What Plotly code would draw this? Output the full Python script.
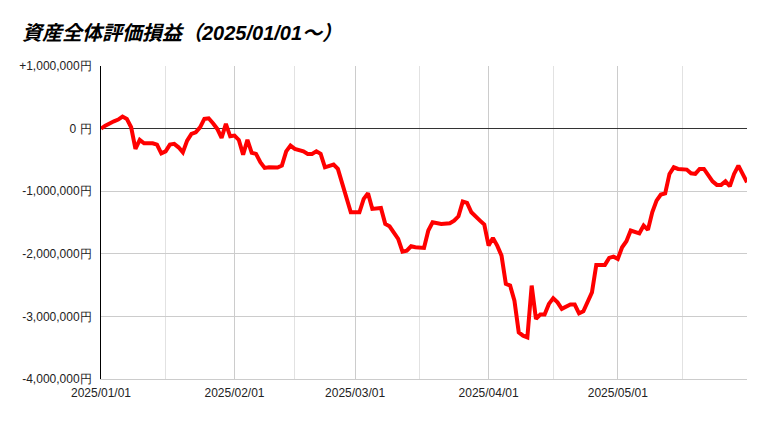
import plotly.graph_objects as go

dates = [
    "2025-01-01", "2025-01-02", "2025-01-04", "2025-01-05", "2025-01-06", "2025-01-07", "2025-01-08",
    "2025-01-09", "2025-01-10", "2025-01-11", "2025-01-13", "2025-01-14", "2025-01-15", "2025-01-16",
    "2025-01-17", "2025-01-18", "2025-01-19", "2025-01-20", "2025-01-21", "2025-01-22", "2025-01-23",
    "2025-01-24", "2025-01-25", "2025-01-26", "2025-01-27", "2025-01-28", "2025-01-29", "2025-01-30",
    "2025-01-31", "2025-02-01", "2025-02-02", "2025-02-03", "2025-02-04", "2025-02-05", "2025-02-06",
    "2025-02-07", "2025-02-08", "2025-02-09", "2025-02-11", "2025-02-12", "2025-02-13", "2025-02-14",
    "2025-02-15", "2025-02-16", "2025-02-17", "2025-02-18", "2025-02-19", "2025-02-20", "2025-02-21",
    "2025-02-22", "2025-02-24", "2025-02-25", "2025-02-26", "2025-02-27", "2025-02-28", "2025-03-02",
    "2025-03-03", "2025-03-04", "2025-03-05", "2025-03-07", "2025-03-08", "2025-03-09", "2025-03-10",
    "2025-03-11", "2025-03-12", "2025-03-13", "2025-03-14", "2025-03-15", "2025-03-17", "2025-03-18",
    "2025-03-19", "2025-03-21", "2025-03-23", "2025-03-24", "2025-03-25", "2025-03-26", "2025-03-27",
    "2025-03-28", "2025-03-30", "2025-03-31", "2025-04-01", "2025-04-02", "2025-04-03", "2025-04-04",
    "2025-04-05", "2025-04-06", "2025-04-07", "2025-04-08", "2025-04-09", "2025-04-10", "2025-04-11",
    "2025-04-12", "2025-04-13", "2025-04-14", "2025-04-15", "2025-04-16", "2025-04-17", "2025-04-18",
    "2025-04-20", "2025-04-21", "2025-04-22", "2025-04-23", "2025-04-25", "2025-04-26", "2025-04-28",
    "2025-04-29", "2025-04-30", "2025-05-01", "2025-05-02", "2025-05-03", "2025-05-04", "2025-05-06",
    "2025-05-07", "2025-05-08", "2025-05-09", "2025-05-10", "2025-05-11", "2025-05-12", "2025-05-13",
    "2025-05-14", "2025-05-15", "2025-05-17", "2025-05-18", "2025-05-19", "2025-05-20", "2025-05-21",
    "2025-05-23", "2025-05-24", "2025-05-25", "2025-05-26", "2025-05-27", "2025-05-28", "2025-05-29",
    "2025-05-30", "2025-05-31",
]

profit = [
    0, 48000, 117000, 144000, 192000, 155000, 21000,
    -324000, -181000, -235000, -235000, -256000, -395000, -363000,
    -256000, -244000, -299000, -379000, -192000, -85000, -59000,
    21000, 155000, 165000, 85000, -5000, -149000, 75000,
    -123000, -112000, -181000, -415000, -181000, -388000, -404000,
    -538000, -628000, -618000, -623000, -591000, -363000, -272000,
    -324000, -336000, -363000, -404000, -404000, -363000, -404000,
    -618000, -575000, -644000, -883000, -1097000, -1337000, -1337000,
    -1123000, -1034000, -1283000, -1267000, -1522000, -1561000, -1657000,
    -1762000, -1965000, -1949000, -1880000, -1896000, -1906000, -1629000,
    -1497000, -1522000, -1513000, -1470000, -1401000, -1166000, -1187000,
    -1337000, -1470000, -1534000, -1869000, -1746000, -1869000, -2029000,
    -2481000, -2508000, -2748000, -3254000, -3307000, -3334000, -2508000,
    -3040000, -2971000, -2971000, -2800000, -2711000, -2775000, -2880000,
    -2811000, -2811000, -2950000, -2919000, -2615000, -2177000, -2177000,
    -2065000, -2045000, -2081000, -1896000, -1800000, -1629000, -1673000,
    -1550000, -1618000, -1337000, -1150000, -1054000, -1034000, -724000,
    -618000, -644000, -655000, -714000, -724000, -644000, -644000,
    -842000, -899000, -899000, -842000, -922000, -724000, -591000,
    -714000, -858000,
]

y_tick_vals = [1000000, 0, -1000000, -2000000, -3000000, -4000000]
y_tick_text = ["+1,000,000円", "0 円", "-1,000,000円", "-2,000,000円", "-3,000,000円", "-4,000,000円"]
x_tick_vals = ["2025-01-01", "2025-02-01", "2025-03-01", "2025-04-01", "2025-05-01"]
x_tick_text = ["2025/01/01", "2025/02/01", "2025/03/01", "2025/04/01", "2025/05/01"]
x_minor_vals = ["2025-01-16", "2025-02-15", "2025-03-16", "2025-04-16", "2025-05-16"]

fig = go.Figure()
fig.add_trace(go.Scatter(
    x=dates, y=profit, mode="lines",
    line=dict(color="#ff0000", width=4),
    hoverinfo="x+y",
))

fig.update_layout(
    width=769, height=421,
    margin=dict(l=93, r=30, t=58, b=50),
    paper_bgcolor="white", plot_bgcolor="white",
    showlegend=False,
    title=dict(
        text="資産全体評価損益（2025/01/01～）",
        x=14 / 769, xref="container", xanchor="left",
        y=1 - 25 / 421, yref="container", yanchor="middle",
        font=dict(family="Liberation Sans, Noto Sans CJK JP", size=20, color="#000000",
                  weight="bold", style="italic"),
    ),
    font=dict(family="Liberation Sans, Arial, sans-serif", size=12, color="#222222"),
)

fig.update_xaxes(
    type="date",
    range=["2025-01-01", "2025-05-31"],
    tickmode="array", tickvals=x_tick_vals, ticktext=x_tick_text,
    showgrid=True, gridcolor="#cccccc", gridwidth=1,
    minor=dict(tickmode="array", tickvals=x_minor_vals, showgrid=True, gridcolor="#e2e2e2", gridwidth=1),
    showline=True, linecolor="#cccccc", linewidth=1,
    ticks="", ticklabelstandoff=3, tickfont=dict(size=12, color="#222222"),
    zeroline=False,
)

fig.update_yaxes(
    range=[-4000000, 1000000],
    tickmode="array", tickvals=y_tick_vals, ticktext=y_tick_text,
    showgrid=True, gridcolor="#cccccc", gridwidth=1,
    zeroline=True, zerolinecolor="#333333", zerolinewidth=1,
    showline=True, linecolor="#000000", linewidth=1,
    ticks="", ticklabelstandoff=6,
    tickfont=dict(size=12, color="#222222"),
)

fig.write_html("out.html")
